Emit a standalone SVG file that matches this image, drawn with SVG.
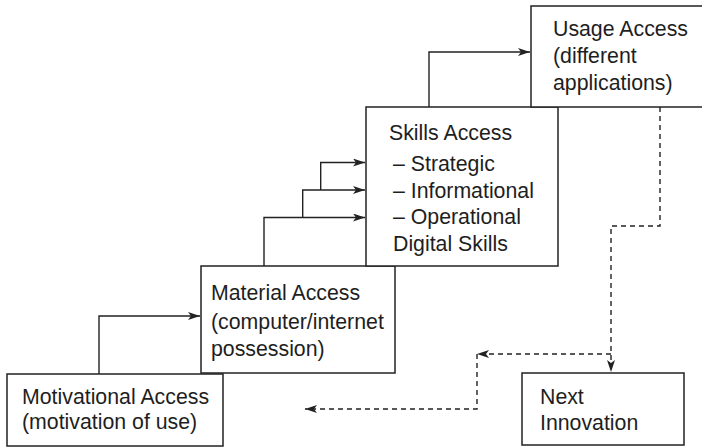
<svg xmlns="http://www.w3.org/2000/svg" width="702" height="447" viewBox="0 0 702 447">
<style>
.box{fill:#fff;stroke:#222;stroke-width:1.5}
.t{font-family:"Liberation Sans",Arial,sans-serif;font-size:21.3px;fill:#1e1e1e}
.c{fill:none;stroke:#222;stroke-width:1.4}
.d{fill:none;stroke:#222;stroke-width:1.4;stroke-dasharray:5 4}
</style>
<defs>
<marker id="ah" viewBox="0 0 12 8" refX="12" refY="4" markerWidth="12" markerHeight="8" markerUnits="userSpaceOnUse" orient="auto">
<path d="M0,0 L12,4 L0,8 L3,4 Z" fill="#222"/>
</marker>
</defs>
<g id="connectors">
<path class="c" d="M99,374 V316 H200" marker-end="url(#ah)"/>
<path class="c" d="M264,266 V217.5 H365" marker-end="url(#ah)"/>
<path class="c" d="M302.7,217.5 V190 H365" marker-end="url(#ah)"/>
<path class="c" d="M320.7,190 V162.5 H365" marker-end="url(#ah)"/>
<path class="c" d="M429,107 V52 H530" marker-end="url(#ah)"/>
<path class="d" d="M660,107 V226 H611 V372" marker-end="url(#ah)"/>
<path class="d" d="M611,354 H477" marker-end="url(#ah)"/>
<path class="d" d="M477,354 V409 H305" marker-end="url(#ah)"/>
</g>
<g id="motivational">
<rect class="box" x="7" y="374" width="216" height="72"/>
<text class="t" x="22" y="404">Motivational Access</text>
<text class="t" x="22" y="429">(motivation of use)</text>
</g>
<g id="material">
<rect class="box" x="201" y="266" width="194" height="107"/>
<text class="t" x="211" y="300">Material Access</text>
<text class="t" x="211" y="329">(computer/internet</text>
<text class="t" x="211" y="356">possession)</text>
</g>
<g id="skills">
<rect class="box" x="366" y="107" width="192" height="159"/>
<text class="t" x="389" y="140">Skills Access</text>
<text class="t" x="393" y="171">– Strategic</text>
<text class="t" x="393" y="198">– Informational</text>
<text class="t" x="393" y="224">– Operational</text>
<text class="t" x="393" y="251">Digital Skills</text>
</g>
<g id="usage">
<rect class="box" x="531" y="6" width="175" height="101"/>
<text class="t" x="553" y="36">Usage Access</text>
<text class="t" x="553" y="63">(different</text>
<text class="t" x="553" y="90">applications)</text>
</g>
<g id="next">
<rect class="box" x="522" y="373" width="162" height="72"/>
<text class="t" x="540" y="404">Next</text>
<text class="t" x="540" y="430">Innovation</text>
</g>
</svg>
